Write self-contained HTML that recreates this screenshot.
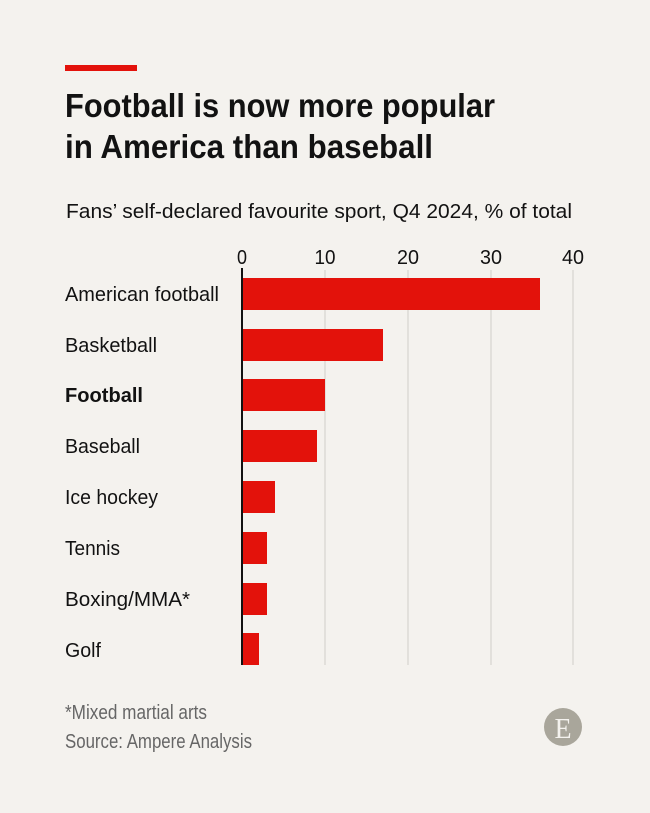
<!DOCTYPE html>
<html><head><meta charset="utf-8"><style>
html,body{margin:0;padding:0;background:#f4f2ee;}
svg{display:block;font-family:"Liberation Sans",sans-serif;}
</style></head><body>
<svg width="650" height="813" viewBox="0 0 650 813" xmlns="http://www.w3.org/2000/svg">
<rect width="650" height="813" fill="#f4f2ee"/>
<rect x="65" y="65" width="72" height="6" fill="#e3120b"/>
<g font-weight="bold" font-size="33" fill="#121212">
<text x="65" y="117" textLength="430" lengthAdjust="spacingAndGlyphs">Football is now more popular</text>
<text x="65" y="158" textLength="368" lengthAdjust="spacingAndGlyphs">in America than baseball</text>
</g>
<text x="66" y="218" font-size="20" fill="#121212" textLength="506" lengthAdjust="spacingAndGlyphs">Fans’ self-declared favourite sport, Q4 2024, % of total</text>
<g stroke="#d6d4cf" stroke-width="1.2">
<line x1="325" y1="270" x2="325" y2="665"/><line x1="408" y1="270" x2="408" y2="665"/>
<line x1="491" y1="270" x2="491" y2="665"/><line x1="573" y1="270" x2="573" y2="665"/>
</g>
<g font-size="20" fill="#121212" text-anchor="middle">
<text x="242" y="264" textLength="10" lengthAdjust="spacingAndGlyphs">0</text>
<text x="325" y="264" textLength="21" lengthAdjust="spacingAndGlyphs">10</text>
<text x="408" y="264" textLength="22" lengthAdjust="spacingAndGlyphs">20</text>
<text x="491" y="264" textLength="22" lengthAdjust="spacingAndGlyphs">30</text>
<text x="573" y="264" textLength="22" lengthAdjust="spacingAndGlyphs">40</text>
</g>
<g fill="#e3120b">
<rect x="242" y="278" width="298" height="32"/>
<rect x="242" y="329" width="141" height="32"/>
<rect x="242" y="379" width="83" height="32"/>
<rect x="242" y="430" width="75" height="32"/>
<rect x="242" y="481" width="33" height="32"/>
<rect x="242" y="532" width="25" height="32"/>
<rect x="242" y="583" width="25" height="32"/>
<rect x="242" y="633" width="17" height="32"/>
</g>
<line x1="242" y1="268" x2="242" y2="665" stroke="#121212" stroke-width="2"/>
<g font-size="20" fill="#121212">
<text x="65" y="301" textLength="154" lengthAdjust="spacingAndGlyphs">American football</text>
<text x="65" y="352" textLength="92" lengthAdjust="spacingAndGlyphs">Basketball</text>
<text x="65" y="402" font-weight="bold" textLength="78" lengthAdjust="spacingAndGlyphs">Football</text>
<text x="65" y="453" textLength="75" lengthAdjust="spacingAndGlyphs">Baseball</text>
<text x="65" y="504" textLength="93" lengthAdjust="spacingAndGlyphs">Ice hockey</text>
<text x="65" y="555" textLength="55" lengthAdjust="spacingAndGlyphs">Tennis</text>
<text x="65" y="606" textLength="125" lengthAdjust="spacingAndGlyphs">Boxing/MMA*</text>
<text x="65" y="657" textLength="36" lengthAdjust="spacingAndGlyphs">Golf</text>
</g>
<g font-size="20" fill="#666">
<text x="65" y="719" textLength="142" lengthAdjust="spacingAndGlyphs">*Mixed martial arts</text>
<text x="65" y="748" textLength="187" lengthAdjust="spacingAndGlyphs">Source: Ampere Analysis</text>
</g>
<circle cx="563" cy="727" r="19" fill="#a9a69b"/>
<text x="563" y="738" text-anchor="middle" font-family="Liberation Serif, serif" font-size="28" fill="#f4f2ee">E</text>
</svg>
</body></html>
